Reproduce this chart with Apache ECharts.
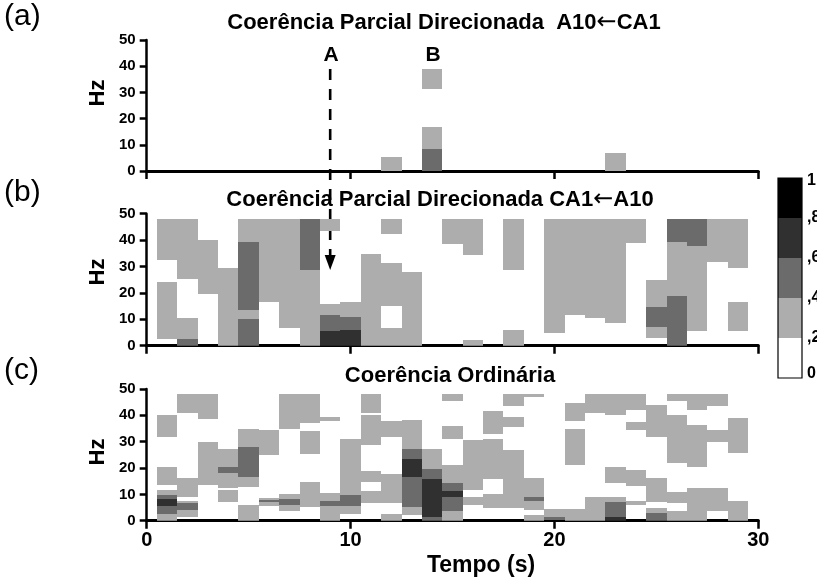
<!DOCTYPE html>
<html><head><meta charset="utf-8">
<script src="https://cdn.jsdelivr.net/npm/echarts/dist/echarts.min.js"></script>
<style>html,body{margin:0;padding:0;background:#fff}#c{width:817px;height:580px}</style>
</head><body><div id="c"></div><script>
// Coherence levels: 0 = <0.2 (white), 1 = 0.2-0.4, 2 = 0.4-0.6, 3 = 0.6-0.8, 4 = 0.8-1
const levelColors = ['#ffffff', '#adadad', '#6b6b6b', '#303030', '#000000'];
const colorbarLabels = ['0', ',2', ',4', ',6', ',8', '1'];
const panelTitles = [
  ['Coerência Parcial Direcionada  A10', '\u2190', 'CA1'],
  ['Coerência Parcial Direcionada CA1', '\u2190', 'A10'],
  ['Coerência Ordinária', '', '']
];
const panelTags = ['(a)', '(b)', '(c)'];
const xTicks = [0, 10, 20, 30];
const yTicks = [0, 10, 20, 30, 40, 50];
const markA = {label: 'A', t: 9};
const markB = {label: 'B', t: 14};

// segments: [time (s, column centre), freq from (Hz), freq to (Hz), level]
const panelA = [
  [12, 0, 5.5, 1],
  [14, 0, 8.4, 2], [14, 8.4, 16.8, 1], [14, 31.4, 38.9, 1],
  [23, 0, 6.9, 1]
];
const panelB = [
  [1, 32.5, 48, 1], [1, 2.7, 24.2, 1],
  [2, 25.2, 48, 1], [2, 2.6, 10.5, 1], [2, 0, 2.6, 2],
  [3, 19.6, 40, 1],
  [4, 0, 29.3, 1],
  [5, 39.3, 48, 1], [5, 13.5, 39.3, 2], [5, 10.1, 13.5, 1], [5, 0, 10.1, 2],
  [6, 16.5, 48, 1],
  [7, 6.8, 48, 1],
  [8, 28.7, 48, 2], [8, 0, 28.7, 1],
  [9, 43.4, 48, 1], [9, 11.7, 15.8, 1], [9, 5.6, 11.7, 2], [9, 0, 5.6, 3],
  [10, 11, 16.5, 1], [10, 5.9, 11, 2], [10, 0, 5.9, 3],
  [11, 0, 34.7, 1],
  [12, 42.3, 48, 1], [12, 15, 31.2, 1], [12, 0, 6.8, 1],
  [13, 0, 28, 1],
  [15, 38.6, 48, 1],
  [16, 34.4, 48, 1], [16, 0, 2.2, 1],
  [18, 28.7, 48, 1], [18, 0, 6, 1],
  [20, 4.7, 48, 1],
  [21, 11.6, 48, 1],
  [22, 10.6, 48, 1],
  [23, 8.5, 48, 1],
  [24, 39, 48, 1],
  [25, 14.8, 24.9, 1], [25, 7.2, 14.8, 2], [25, 2.8, 7.2, 1],
  [26, 39.4, 48, 2], [26, 19, 39.4, 1], [26, 0, 19, 2],
  [27, 37.9, 48, 2], [27, 5.6, 37.9, 1],
  [28, 31.8, 48, 1],
  [29, 29.6, 48, 1], [29, 5.6, 16.7, 1]
];
const panelC = [
  [1, 31.8, 40, 1], [1, 13.6, 20.2, 1], [1, 9.8, 11.7, 1], [1, 8.2, 9.8, 2], [1, 5.6, 8.2, 3], [1, 2.5, 5.6, 2], [1, 0, 2.5, 1],
  [2, 40.8, 48, 1], [2, 9.1, 16.2, 1], [2, 6.8, 7.6, 1], [2, 4.1, 6.8, 2], [2, 1.5, 4.1, 1],
  [3, 38.5, 48, 1], [3, 13.6, 30, 1],
  [4, 20.5, 27.2, 1], [4, 18.2, 20.5, 2], [4, 12.3, 18.2, 1], [4, 7.2, 11.7, 1],
  [5, 28, 34.8, 1], [5, 16.7, 28, 2], [5, 12.9, 16.7, 1], [5, 0, 6, 1],
  [6, 24.9, 34.4, 1], [6, 7.9, 8.7, 1], [6, 7, 7.9, 2], [6, 5.6, 7, 1],
  [7, 34.8, 48, 1], [7, 8.2, 10.1, 1], [7, 6, 8.2, 2], [7, 3.7, 6, 1],
  [8, 37.2, 48, 1], [8, 25.2, 34, 1], [8, 5.3, 14.8, 1],
  [9, 37.9, 39.5, 1], [9, 7.5, 10.4, 1], [9, 5.6, 7.5, 2], [9, 0, 5.6, 1],
  [10, 9.8, 30.9, 1], [10, 5.6, 9.8, 2], [10, 2.5, 5.6, 1],
  [11, 40.7, 48, 1], [11, 28.8, 40.1, 1], [11, 14.6, 19, 1], [11, 6.8, 11.2, 1],
  [12, 31.6, 37.8, 1], [12, 6.8, 17.7, 1], [12, 0, 2.5, 1],
  [13, 27.2, 38.4, 1], [13, 23.4, 27.2, 2], [13, 16.7, 23.4, 3], [13, 5.3, 16.7, 2], [13, 2.2, 5.3, 1],
  [14, 19.6, 27.2, 1], [14, 15.8, 19.6, 2], [14, 1.5, 15.8, 3], [14, 0, 1.5, 2],
  [15, 45.5, 48, 1], [15, 30.9, 35.9, 1], [15, 14.3, 21.1, 1], [15, 11.3, 14.3, 2], [15, 9.1, 11.3, 3], [15, 3.8, 9.1, 2], [15, 0, 3.8, 1],
  [16, 11.6, 30.8, 1], [16, 6, 9.1, 1],
  [17, 33.1, 41.7, 1], [17, 15.7, 31.2, 1], [17, 4.7, 10.1, 1],
  [18, 43.5, 48, 1], [18, 35.6, 39.2, 1], [18, 4.7, 27, 1],
  [19, 47, 48, 1], [19, 9.1, 16.4, 1], [19, 7.6, 9.1, 2], [19, 4.1, 7.6, 1], [19, 0, 2.2, 1],
  [20, 1.3, 4.3, 1], [20, 0.3, 1.3, 2],
  [21, 38, 44.8, 1], [21, 21.2, 34.7, 1], [21, 0, 4.5, 1],
  [22, 40.8, 48, 1], [22, 0, 9, 1],
  [23, 40.3, 48, 1], [23, 14.2, 20.2, 1], [23, 7, 9.1, 1], [23, 1.5, 7, 2], [23, 0, 1.5, 3],
  [24, 42, 48, 1], [24, 34.4, 37.5, 1], [24, 13.2, 19.2, 1], [24, 6, 7.6, 1],
  [25, 31.6, 43.8, 1], [25, 7.2, 16.1, 1], [25, 2.8, 4.7, 1], [25, 0, 2.8, 2],
  [26, 45.5, 48, 1], [26, 22, 40, 1], [26, 6.8, 11, 1], [26, 0, 3.8, 1],
  [27, 42, 48, 1], [27, 20.5, 36.3, 1], [27, 0, 12.3, 1],
  [28, 43.5, 48, 1], [28, 30, 34.6, 1], [28, 3.8, 12.3, 1],
  [29, 25.8, 38.9, 1], [29, 0, 7.6, 1]
];
const panels = [panelA, panelB, panelC];

const FONT = '"Liberation Sans", Arial, Helvetica, sans-serif';
const grids = [
  {left: 146.7, width: 611.6, top: 40, height: 131},
  {left: 146.7, width: 611.6, top: 213.7, height: 132},
  {left: 146.7, width: 611.6, top: 389, height: 131.7}
];

function renderCell(params, api) {
  const t = api.value(0), f0 = api.value(1), f1 = api.value(2), lvl = api.value(3);
  const p0 = api.coord([t - 0.5, f1]);
  const p1 = api.coord([t + 0.5, f0]);
  const x0 = Math.round(p0[0]), x1 = Math.round(p1[0]);
  const y0 = Math.round(p0[1]), y1 = Math.round(p1[1]);
  return {
    type: 'rect',
    shape: {x: x0, y: y0, width: x1 - x0, height: y1 - y0},
    style: {fill: levelColors[lvl], stroke: null}
  };
}

const option = {
  animation: false,
  backgroundColor: '#fff',
  grid: grids,
  xAxis: grids.map((g, i) => ({
    type: 'value', gridIndex: i, min: xTicks[0], max: xTicks[xTicks.length - 1], interval: 10,
    position: 'bottom',
    axisLine: {show: true, onZero: false, lineStyle: {color: '#000', width: 3}},
    axisTick: {show: true, length: 8, lineStyle: {color: '#000', width: 2.5}},
    splitLine: {show: false},
    axisLabel: {show: i === 2, color: '#000', fontSize: 20, fontWeight: 'bold', fontFamily: FONT, margin: 10}
  })),
  yAxis: grids.map((g, i) => ({
    type: 'value', gridIndex: i, min: yTicks[0], max: yTicks[yTicks.length - 1], interval: 10,
    axisLine: {show: true, onZero: false, lineStyle: {color: '#000', width: 2.5}},
    axisTick: {show: true, length: 7, lineStyle: {color: '#000', width: 2.5}},
    splitLine: {show: false},
    axisLabel: {color: '#000', fontSize: 15, fontWeight: 'bold', fontFamily: FONT, margin: 11}
  })),
  series: panels.map((d, i) => ({
    type: 'custom', xAxisIndex: i, yAxisIndex: i, data: d, renderItem: renderCell, clip: true, z: 1
  }))
};

const chart = echarts.init(document.getElementById('c'), null, {renderer: 'canvas'});
chart.setOption(option);

// annotations
const g = [];
const titleY = [23, 200, 376];
const titleX = [444, 440, 450];
const tagY = [17, 193, 371];
const hzY = [93, 272, 452];
const titleRich = {
  b: {fontFamily: FONT, fontWeight: 'bold', fontSize: 22, fill: '#000'},
  r: {fontFamily: '"DejaVu Sans", sans-serif', fontWeight: 'normal', fontSize: 24, fill: '#000'}
};
for (let i = 0; i < 3; i++) {
  const p = panelTitles[i];
  const txt = '{b|' + p[0] + '}' + (p[1] ? '{r|' + p[1] + '}' : '') + (p[2] ? '{b|' + p[2] + '}' : '');
  g.push({type: 'text', x: titleX[i], y: titleY[i], style: {text: txt, rich: titleRich, font: 'bold 22px ' + FONT, fill: '#000', align: 'center', verticalAlign: 'middle'}});
  g.push({type: 'text', x: 4, y: tagY[i], style: {text: panelTags[i], font: '30px ' + FONT, fill: '#000', align: 'left', verticalAlign: 'middle'}});
  g.push({type: 'text', x: 98, y: hzY[i], rotation: Math.PI / 2, style: {text: 'Hz', font: 'bold 22px ' + FONT, fill: '#000', align: 'center', verticalAlign: 'middle'}});
}
g.push({type: 'text', x: 481, y: 566, style: {text: 'Tempo (s)', font: 'bold 23px ' + FONT, fill: '#000', align: 'center', verticalAlign: 'middle'}});

// A / B markers
const pA = chart.convertToPixel({gridIndex: 0}, [markA.t, 40]);
const pB = chart.convertToPixel({gridIndex: 0}, [markB.t, 40]);
g.push({type: 'text', x: pA[0] + 1, y: 55, style: {text: markA.label, font: 'bold 21px ' + FONT, fill: '#000', align: 'center', verticalAlign: 'middle'}});
g.push({type: 'text', x: pB[0] + 1, y: 55, style: {text: markB.label, font: 'bold 21px ' + FONT, fill: '#000', align: 'center', verticalAlign: 'middle'}});
// dashed arrow from panel (a) down into panel (b)
const tip = chart.convertToPixel({gridIndex: 1}, [markA.t, 28.7]);
const ax = pA[0];
g.push({type: 'line', shape: {x1: ax, y1: 69, x2: ax, y2: tip[1] - 10}, style: {stroke: '#000', lineWidth: 2.6, lineDash: [11, 9]}});
g.push({type: 'polygon', shape: {points: [[ax - 5.5, tip[1] - 15], [ax + 5.5, tip[1] - 15], [ax, tip[1]]]}, style: {fill: '#000'}});

// colour bar
const cbX = 778, cbW = 24, cbTop = 178, cbBot = 378;
const nLv = levelColors.length;
const step = (cbBot - cbTop) / nLv;
for (let k = 0; k < nLv; k++) {
  const y0 = cbBot - (k + 1) * step;
  g.push({type: 'rect', shape: {x: cbX, y: y0, width: cbW, height: step}, style: {fill: levelColors[k], stroke: null}});
}
g.push({type: 'rect', shape: {x: cbX, y: cbTop, width: cbW, height: cbBot - cbTop}, style: {fill: null, stroke: '#000', lineWidth: 1.2}});
for (let k = 0; k < colorbarLabels.length; k++) {
  const yy = cbBot - k * step;
  g.push({type: 'text', x: cbX + cbW + 5, y: Math.min(Math.max(yy, cbTop + 3), cbBot - 4), style: {text: colorbarLabels[k], font: 'bold 16px ' + FONT, fill: '#000', align: 'left', verticalAlign: 'middle'}});
}
chart.setOption({graphic: {elements: g}});
</script></body></html>
